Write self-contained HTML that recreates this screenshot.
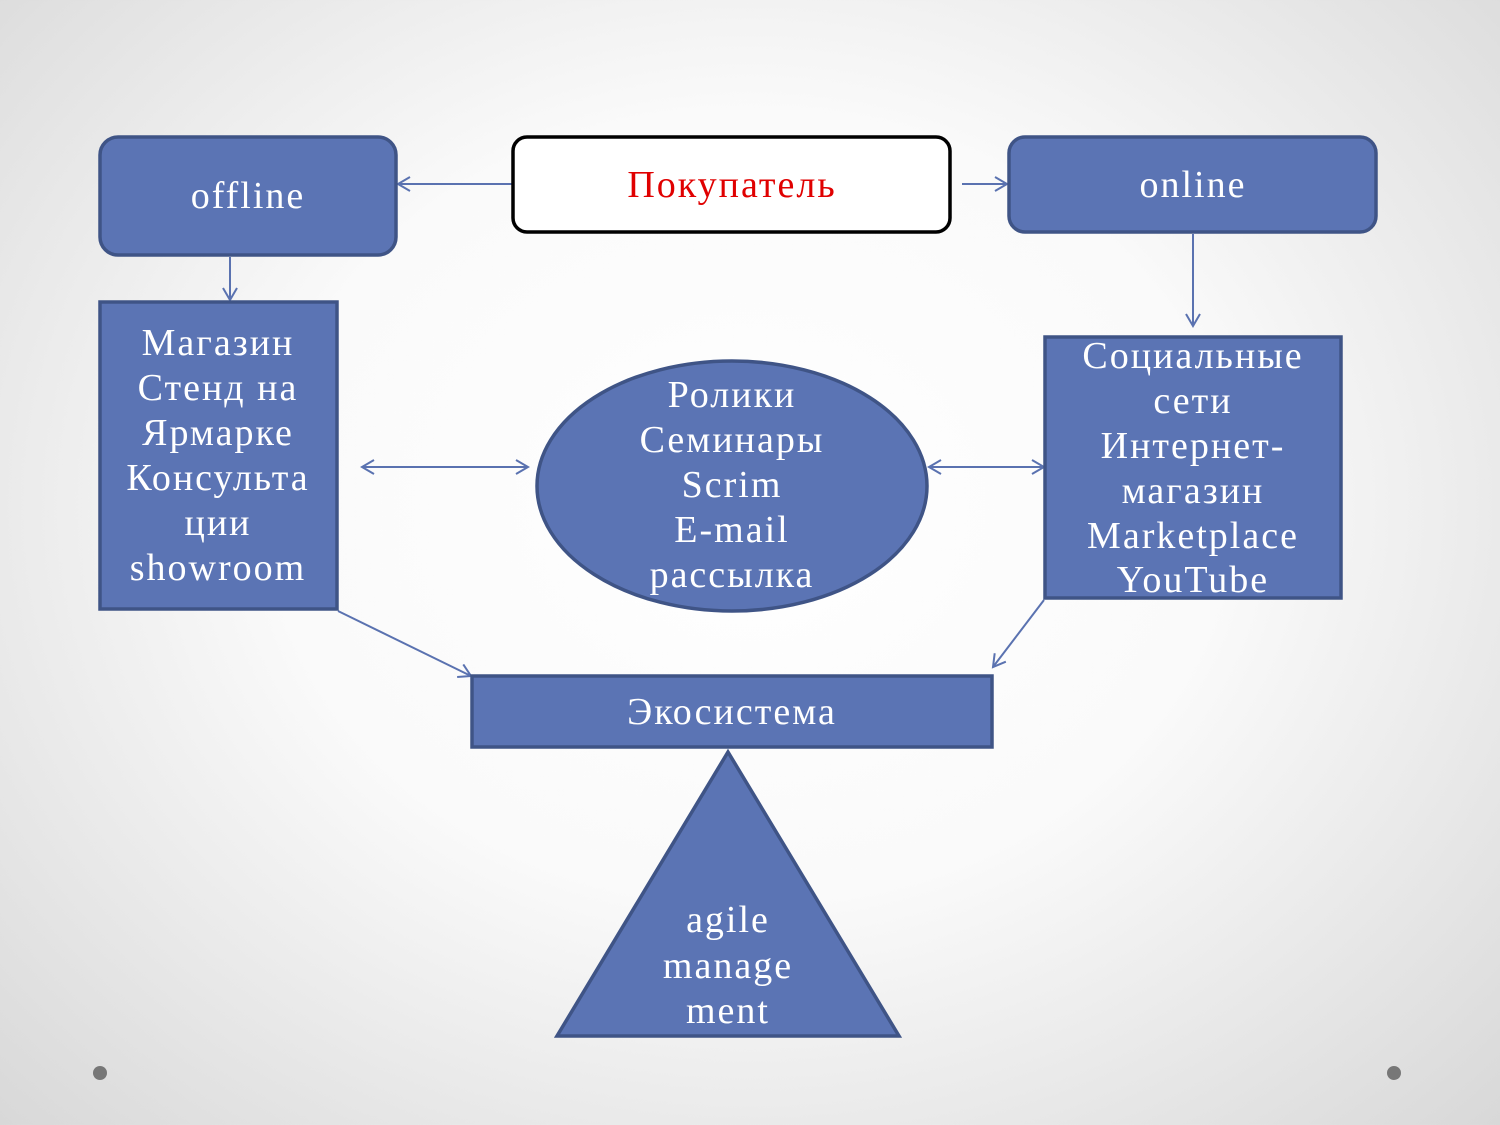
<!DOCTYPE html>
<html><head><meta charset="utf-8"><style>
html,body{margin:0;padding:0;width:1500px;height:1125px;overflow:hidden}
body{background:radial-gradient(ellipse at 50% 45%,#ffffff 0%,#fafafa 45%,#d8d8d8 100%)}
svg text{font-family:"Liberation Serif",serif;font-size:38px;letter-spacing:2px;fill:#fff;text-anchor:middle}
</style></head><body>
<svg width="1500" height="1125" viewBox="0 0 1500 1125" xmlns="http://www.w3.org/2000/svg">
<defs>
<marker id="a" markerWidth="16" markerHeight="16" refX="13" refY="8" orient="auto-start-reverse" markerUnits="userSpaceOnUse">
<path d="M1,1 L13,8 L1,15" fill="none" stroke="#5a72b0" stroke-width="2"/>
</marker>
</defs>
<g stroke="#5a72b0" stroke-width="2" fill="none">
<line x1="513" y1="184" x2="398" y2="184" marker-end="url(#a)"/>
<line x1="962" y1="184" x2="1007" y2="184" marker-end="url(#a)"/>
<line x1="230" y1="257" x2="230" y2="300" marker-end="url(#a)"/>
<line x1="1193" y1="234" x2="1193" y2="326" marker-end="url(#a)"/>
<line x1="362" y1="467" x2="528" y2="467" marker-start="url(#a)" marker-end="url(#a)"/>
<line x1="929" y1="467" x2="1044" y2="467" marker-start="url(#a)" marker-end="url(#a)"/>
<line x1="338" y1="611" x2="471" y2="676" marker-end="url(#a)"/>
<line x1="1044" y1="600" x2="993" y2="667" marker-end="url(#a)"/>
</g>
<g fill="#5b74b4" stroke="#3f5486" stroke-width="3.5">
<rect x="100" y="137" width="296" height="118" rx="18"/>
<rect x="1009" y="137" width="367" height="95" rx="16"/>
<rect x="100" y="302" width="237" height="307"/>
<ellipse cx="732" cy="486" rx="195" ry="125"/>
<rect x="1045" y="337" width="296" height="261"/>
<rect x="472" y="676" width="520" height="71"/>
<polygon points="728,752 899,1036 557,1036"/>
</g>
<rect x="513" y="137" width="437" height="95" rx="14" fill="#fff" stroke="#000" stroke-width="3.5"/>
<text x="732" y="197" style="fill:#e00000">Покупатель</text>
<text x="248" y="208">offline</text>
<text x="1193" y="197">online</text>
<g>
<text x="218" y="355">Магазин</text>
<text x="218" y="400">Стенд на</text>
<text x="218" y="445">Ярмарке</text>
<text x="218" y="490">Консульта</text>
<text x="218" y="535">ции</text>
<text x="218" y="580">showroom</text>
</g>
<g>
<text x="732" y="407">Ролики</text>
<text x="732" y="452">Семинары</text>
<text x="732" y="497">Scrim</text>
<text x="732" y="542">E-mail</text>
<text x="732" y="587">рассылка</text>
</g>
<g>
<text x="1193" y="368">Социальные</text>
<text x="1193" y="413">сети</text>
<text x="1193" y="458">Интернет-</text>
<text x="1193" y="503">магазин</text>
<text x="1193" y="548">Marketplace</text>
<text x="1193" y="592">YouTube</text>
</g>
<text x="732" y="724">Экосистема</text>
<text x="728" y="932">agile</text>
<text x="728" y="978">manage</text>
<text x="728" y="1023">ment</text>
<circle cx="100" cy="1073" r="7" fill="#777"/>
<circle cx="1394" cy="1073" r="7" fill="#777"/>
</svg>
</body></html>
